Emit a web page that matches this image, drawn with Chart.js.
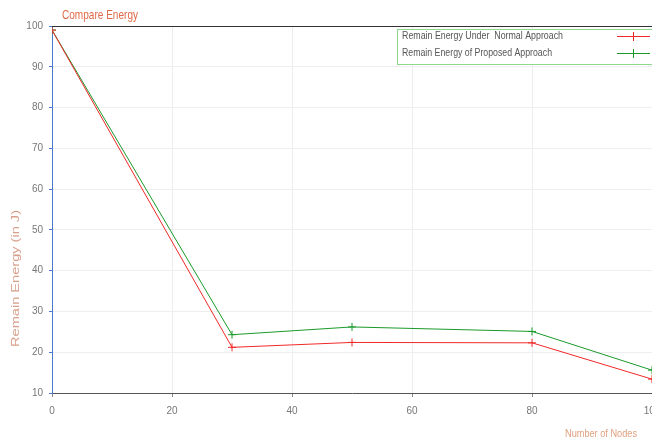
<!DOCTYPE html>
<html>
<head>
<meta charset="utf-8">
<script src="https://cdn.jsdelivr.net/npm/chart.js@4.4.1/dist/chart.umd.min.js"></script>
<style>
  html, body { margin: 0; padding: 0; background: #fff; overflow: hidden; width: 652px; height: 443px; }
  #wrap { position: relative; width: 680px; height: 443px; }
  canvas { display: block; }
</style>
</head>
<body>
<div id="wrap"><canvas id="GraficoEnergia" width="680" height="443" style="width:680px;height:443px;"></canvas></div>
<script>
// valores
var nodes = [0, 30, 50, 80, 100];
var normalEnergy = [99, 21.2, 22.4, 22.3, 13.4];
var proposedEnergy = [99, 24.3, 26.2, 25.1, 15.6];
var xTicks = [0, 20, 40, 60, 80, 100];
var yTicks = [10, 20, 30, 40, 50, 60, 70, 80, 90, 100];

var tituloGrafico = "Compare Energy";
var tituloX = "Number of Nodes";
var tituloY = "Remain Energy (in J)";
var fonte = "'Liberation Sans Narrow', 'Liberation Sans', Arial, sans-serif";

function PegarPontos(xs, ys) {
    var pts = [];
    for (var i = 0; i < xs.length; i++) pts.push({ x: xs[i], y: ys[i] });
    return pts;
}

// texto esticado/encolhido ate a largura pedida (alinhado a esquerda)
function TextoAjustado(ctx, txt, x, y, largura) {
    var w = ctx.measureText(txt).width;
    ctx.save();
    ctx.translate(x, y);
    ctx.scale(largura / w, 1);
    ctx.textAlign = 'left';
    ctx.fillText(txt, 0, 0);
    ctx.restore();
}

// moldura, titulos e legenda desenhados a mao
var extras = {
    id: 'extras',
    afterDraw: function (chart) {
        var ctx = chart.ctx;
        var a = chart.chartArea;
        ctx.save();

        ctx.strokeStyle = '#333';
        ctx.lineWidth = 1;
        ctx.beginPath();
        ctx.moveTo(a.left, a.top + 0.5);
        ctx.lineTo(a.right, a.top + 0.5);
        ctx.stroke();

        ctx.textBaseline = 'middle';

        ctx.fillStyle = '#e06a48';
        ctx.font = "13px " + fonte;
        TextoAjustado(ctx, tituloGrafico, 62, 15, 76);

        ctx.fillStyle = '#e0a080';
        ctx.font = "11px " + fonte;
        TextoAjustado(ctx, tituloX, 565, 434, 72);

        ctx.save();
        ctx.translate(16, 347);
        ctx.rotate(-Math.PI / 2);
        ctx.fillStyle = '#d8a08c';
        ctx.font = "10px " + fonte;
        TextoAjustado(ctx, tituloY, 0, 0, 137);
        ctx.restore();

        // legenda
        var bx = 397, by = 29, bw = 300, bh = 35;
        ctx.fillStyle = '#fff';
        ctx.fillRect(bx, by, bw, bh);
        ctx.strokeStyle = '#8cd88c';
        ctx.strokeRect(bx + 0.5, by + 0.5, bw, bh);
        var ds = chart.data.datasets;
        var larguras = [161, 150];
        ctx.font = "11px " + fonte;
        for (var i = 0; i < ds.length; i++) {
            var yy = by + 7 + i * 17;
            ctx.fillStyle = '#555';
            TextoAjustado(ctx, ds[i].label, bx + 5, yy, larguras[i]);
            ctx.strokeStyle = ds[i].borderColor;
            ctx.beginPath();
            ctx.moveTo(617, yy + 0.5);
            ctx.lineTo(650, yy + 0.5);
            ctx.moveTo(633.5, yy - 4);
            ctx.lineTo(633.5, yy + 5);
            ctx.stroke();
        }
        ctx.restore();
    }
};

var ctx = document.getElementById('GraficoEnergia').getContext('2d');

var grafico = new Chart(ctx, {
    type: 'line',
    data: {
        datasets: [{
            label: "Remain Energy Under  Normal Approach",
            data: PegarPontos(nodes, normalEnergy),
            borderColor: '#f02828',
            backgroundColor: '#f02828',
            borderWidth: 1,
            pointStyle: 'cross',
            pointRadius: 4,
            pointBorderWidth: 1,
            tension: 0
        }, {
            label: "Remain Energy of Proposed Approach",
            data: PegarPontos(nodes, proposedEnergy),
            borderColor: '#1a9a2a',
            backgroundColor: '#1a9a2a',
            borderWidth: 1,
            pointStyle: 'cross',
            pointRadius: 4,
            pointBorderWidth: 1,
            tension: 0
        }]
    },
    options: {
        responsive: false,
        animation: false,
        devicePixelRatio: 1,
        layout: { padding: { top: 26, right: 28, left: 0, bottom: 0 } },
        plugins: {
            legend: { display: false },
            title: { display: false },
            tooltip: { enabled: false }
        },
        scales: {
            x: {
                type: 'linear',
                min: 0,
                max: 100,
                afterBuildTicks: function (s) { s.ticks = xTicks.map(function (v) { return { value: v }; }); },
                afterFit: function (s) { s.height = 50; },
                ticks: { color: '#777', font: { family: fonte, size: 10 }, padding: 8, maxRotation: 0 },
                grid: { color: '#ececec', tickLength: 4, tickColor: '#888' },
                border: { color: '#555', width: 1 }
            },
            y: {
                type: 'linear',
                min: 10,
                max: 100,
                afterBuildTicks: function (s) { s.ticks = yTicks.map(function (v) { return { value: v }; }); },
                afterFit: function (s) { s.width = 52; },
                ticks: { color: '#777', font: { family: fonte, size: 10 }, padding: 6 },
                grid: { color: '#eeeeee', tickLength: 3, tickColor: '#4a7ad0' },
                border: { color: '#4a7ad0', width: 1 }
            }
        }
    },
    plugins: [extras]
});
</script>
</body>
</html>
